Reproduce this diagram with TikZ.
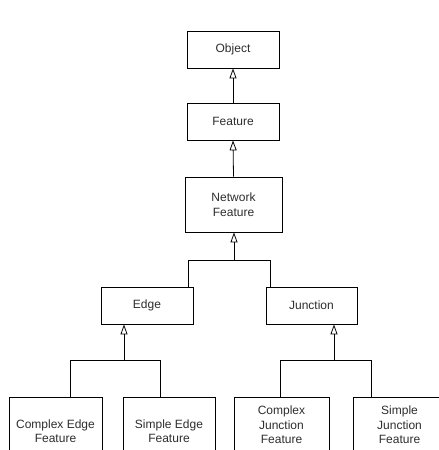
\documentclass[tikz,border=0pt]{standalone}
\usepackage{fontspec}
\setmainfont{Liberation Sans}
\usetikzlibrary{arrows.meta}
\definecolor{txt}{RGB}{45,45,45}
\tikzset{
  cls/.style={draw=black, line width=0.8pt, rectangle, inner sep=0pt, align=center,
    text=txt, font=\fontsize{12}{14.5}\selectfont},
  inh/.style={line width=0.8pt, -{Triangle[open, width=7pt, length=10pt]}},
  lnk/.style={line width=0.8pt}
}
\begin{document}
\begin{tikzpicture}[x=1pt,y=-1pt]
\useasboundingbox (0,0) rectangle (439,450);
\clip (0,0) rectangle (439,450);
% nodes
\node[cls, minimum width=92pt, minimum height=37pt] (obj) at (233,49.5) {Object};
\node[cls, minimum width=92pt, minimum height=37pt] (feat) at (233,121.5) {Feature};
\node[cls, minimum width=97pt, minimum height=55pt] (net) at (233.5,204.5) {Network\\Feature};
\node[cls, minimum width=92pt, minimum height=37pt] (edge) at (147,305.5) {Edge};
\node[cls, minimum width=91pt, minimum height=37pt] (junc) at (311.5,305.5) {Junction};
\node[cls, minimum width=93pt, minimum height=68pt] (ce) at (55.5,431) {Complex Edge\\Feature};
\node[cls, minimum width=92pt, minimum height=68pt] (se) at (169,431) {Simple Edge\\Feature};
\node[cls, minimum width=95pt, minimum height=56pt] (cj) at (281.5,425) {Complex\\Junction\\Feature};
\node[cls, minimum width=93pt, minimum height=56pt] (sj) at (399.5,425) {Simple\\Junction\\Feature};
% simple inheritance
\draw[inh] (feat.north) -- (obj.south);
\draw[inh] (net.north) -- (feat.south);
% network children
\coordinate (n0) at (234,260);
\coordinate (n1) at (188,260);
\coordinate (n2) at (270,260);
\draw[inh] (n0) -- (n0 |- net.south);
\draw[lnk] (edge.north -| n1) -- (n1) -- (n2) -- (junc.north -| n2);
% edge children
\coordinate (e0) at (124,360);
\coordinate (e1) at (70,360);
\coordinate (e2) at (160,360);
\draw[inh] (e0) -- (e0 |- edge.south);
\draw[lnk] (ce.north -| e1) -- (e1) -- (e2) -- (se.north -| e2);
% junction children
\coordinate (j0) at (334,360);
\coordinate (j1) at (280,360);
\coordinate (j2) at (371,360);
\draw[inh] (j0) -- (j0 |- junc.south);
\draw[lnk] (cj.north -| j1) -- (j1) -- (j2) -- (sj.north -| j2);
\end{tikzpicture}
\end{document}
